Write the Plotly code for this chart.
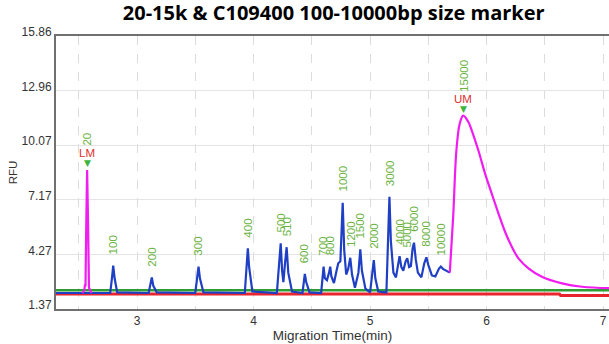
import plotly.graph_objects as go

# ---------------- data ----------------
# ladder (blue) trace (minutes, RFU)
blue_t = [2.30, 2.770, 2.785, 2.796, 2.808, 2.830, 3.100, 3.115, 3.127, 3.140, 3.170,
          3.500, 3.515, 3.528, 3.540, 3.570, 3.925, 3.940, 3.951, 3.962, 3.990,
          4.200, 4.218, 4.233, 4.245, 4.256, 4.270, 4.284, 4.298, 4.330,
          4.420, 4.432, 4.440, 4.452, 4.480, 4.580, 4.592, 4.601, 4.612, 4.630,
          4.648, 4.658, 4.668, 4.690, 4.712, 4.727, 4.745, 4.755, 4.765, 4.778,
          4.795, 4.812, 4.830, 4.845, 4.870, 4.900, 4.916, 4.930, 4.960, 5.000,
          5.020, 5.032, 5.045, 5.070, 5.140, 5.155, 5.166, 5.178, 5.200, 5.222,
          5.240, 5.253, 5.268, 5.285, 5.305, 5.319, 5.335, 5.350, 5.365, 5.377,
          5.392, 5.410, 5.440, 5.465, 5.483, 5.500, 5.530, 5.560, 5.590, 5.607,
          5.625, 5.655, 5.684]
blue_v = [2.22, 2.22, 3.00, 3.67, 3.00, 2.25, 2.22, 2.70, 3.05, 2.60, 2.25,
          2.22, 3.00, 3.62, 3.00, 2.25, 2.22, 3.80, 4.59, 3.60, 2.30,
          2.22, 3.80, 4.86, 3.40, 2.80, 3.80, 4.65, 3.30, 2.30,
          2.22, 2.80, 3.23, 2.80, 2.25, 2.22, 3.10, 3.62, 3.00, 2.90,
          3.30, 3.62, 3.10, 2.75, 3.40, 3.80, 3.90, 5.40, 7.01, 4.50,
          3.20, 3.50, 4.09, 3.20, 2.50, 3.30, 4.54, 3.40, 2.45, 2.25,
          3.30, 3.97, 3.00, 2.30, 2.25, 5.00, 7.33, 5.00, 3.30, 3.05,
          3.60, 4.18, 3.60, 3.40, 3.90, 4.06, 3.60, 3.65, 4.60, 4.89,
          4.00, 3.30, 3.05, 3.80, 4.11, 3.70, 3.15, 3.10, 3.50, 3.62,
          3.50, 3.40, 3.30]

# marker peaks (magenta): lower marker and upper marker
lm_t = [2.530, 2.548, 2.553, 2.558, 2.565, 2.572, 2.580, 2.588, 2.610]
lm_v = [2.22, 2.35, 2.62, 2.62, 6.00, 8.75, 6.00, 2.50, 2.22]
um_t = [5.684, 5.713, 5.741, 5.770, 5.799, 5.842, 5.871, 5.928, 5.986, 6.043,
        6.101, 6.158, 6.216, 6.273, 6.359, 6.474, 6.647, 6.819, 7.069]
um_v = [3.30, 6.27, 9.81, 11.23, 11.63, 11.31, 10.87, 9.81, 8.57, 7.51,
        6.45, 5.47, 4.68, 4.06, 3.53, 3.08, 2.73, 2.55, 2.47]

# flat baselines
green_t = [2.30, 7.07]
green_v = [2.36, 2.36]
red_t = [2.30, 6.625, 6.635, 7.07]
red_v = [2.16, 2.16, 2.08, 2.08]

# peak size labels
peak_labels = ["100", "200", "300", "400", "500", "510", "600", "700", "800",
               "1000", "1200", "1500", "2000", "3000", "4000", "5000", "6000",
               "8000", "10000"]
peak_t = [2.796, 3.127, 3.528, 3.951, 4.233, 4.284, 4.440, 4.601, 4.658,
          4.765, 4.830, 4.916, 5.032, 5.166, 5.253, 5.319, 5.377, 5.483, 5.607]
peak_v = [3.67, 3.05, 3.62, 4.59, 4.86, 4.65, 3.23, 3.62, 3.62,
          7.01, 4.09, 4.54, 3.97, 7.33, 4.18, 4.06, 4.89, 4.11, 3.62]

marker_names = ["LM", "UM"]
marker_sizes = ["20", "15000"]
marker_t = [2.572, 5.799]
marker_v = [8.75, 11.63]

y_ticks = [1.37, 4.27, 7.17, 10.07, 12.96, 15.86]
x_ticks = [3, 4, 5, 6, 7]

# ---------------- figure ----------------
fig = go.Figure()
fig.add_trace(go.Scatter(x=red_t, y=red_v, mode="lines",
                         line=dict(color="#e8242c", width=3), hoverinfo="skip"))
fig.add_trace(go.Scatter(x=green_t, y=green_v, mode="lines",
                         line=dict(color="#2e9e34", width=2.5), hoverinfo="skip"))
fig.add_trace(go.Scatter(x=blue_t, y=blue_v, mode="lines",
                         line=dict(color="#1f3fc4", width=2.2), hoverinfo="skip"))
fig.add_trace(go.Scatter(x=lm_t, y=lm_v, mode="lines",
                         line=dict(color="#f01cf0", width=2.2), hoverinfo="skip"))
fig.add_trace(go.Scatter(x=um_t, y=um_v, mode="lines", line_shape="spline",
                         line=dict(color="#f01cf0", width=2.2), hoverinfo="skip"))

label_green = "#6ab23e"
annotations = []
for lab, t, v in zip(peak_labels, peak_t, peak_v):
    annotations.append(dict(x=t, y=v, xref="x", yref="y", text=lab, showarrow=False,
                            textangle=-90, xanchor="center", yanchor="bottom", yshift=9,
                            font=dict(family="Liberation Sans, Arial", size=11.5, color=label_green)))
for name, size, t, v in zip(marker_names, marker_sizes, marker_t, marker_v):
    annotations.append(dict(x=t, y=v, xref="x", yref="y", text="▼", showarrow=False,
                            xanchor="center", yanchor="bottom", yshift=0,
                            font=dict(family="DejaVu Sans", size=9, color="#3cb43c")))
    annotations.append(dict(x=t, y=v, xref="x", yref="y", text=name, showarrow=False,
                            xanchor="center", yanchor="bottom", yshift=9,
                            font=dict(family="Liberation Sans, Arial", size=11.5, color="#e03030")))
    annotations.append(dict(x=t, y=v, xref="x", yref="y", text=size, showarrow=False,
                            textangle=-90, xanchor="center", yanchor="bottom", yshift=22,
                            font=dict(family="Liberation Sans, Arial", size=11.5, color=label_green)))

fig.update_layout(
    width=609, height=344,
    margin=dict(l=56, r=0, t=36, b=35),
    paper_bgcolor="white", plot_bgcolor="white",
    showlegend=False,
    title=dict(text="<b>20-15k & C109400 100-10000bp size marker</b>",
               x=0.548, xanchor="center", y=0.962, yanchor="middle",
               font=dict(family="Open Sans", size=20, color="black")),
    annotations=annotations,
    font=dict(family="Liberation Sans, Arial", color="#333333"),
)
fig.update_xaxes(
    range=[2.305, 7.05], tickvals=x_ticks, ticktext=[str(v) for v in x_ticks],
    showgrid=True, gridcolor="#dcdcdc", griddash="dash", gridwidth=1,
    minor=dict(dtick=0.5, tick0=0, showgrid=True, gridcolor="#dcdcdc", griddash="dash"),
    showline=True, linecolor="#707070", linewidth=2, mirror=True,
    zeroline=False, ticks="", ticklen=0, automargin=False,
    tickfont=dict(size=12, color="#333333"),
    title=dict(text="Migration Time(min)", standoff=0, font=dict(size=13.5, color="#333333")),
)
fig.update_yaxes(
    range=[1.37, 15.86], tickvals=y_ticks, ticktext=[f"{v:.2f}" for v in y_ticks],
    showgrid=True, gridcolor="#e4e4e4", gridwidth=1,
    showline=True, linecolor="#707070", linewidth=2, mirror=False,
    zeroline=False, ticks="", ticklen=0, ticklabelshift=-4, ticklabelstandoff=0,
    automargin=False,
    tickfont=dict(size=12, color="#333333"),
    title=dict(text="RFU", standoff=2, font=dict(size=11.5, color="#333333")),
)

fig.write_html("out.html", config={"displayModeBar": False},
               post_script="document.body.style.margin='0';document.body.style.padding='0';")
